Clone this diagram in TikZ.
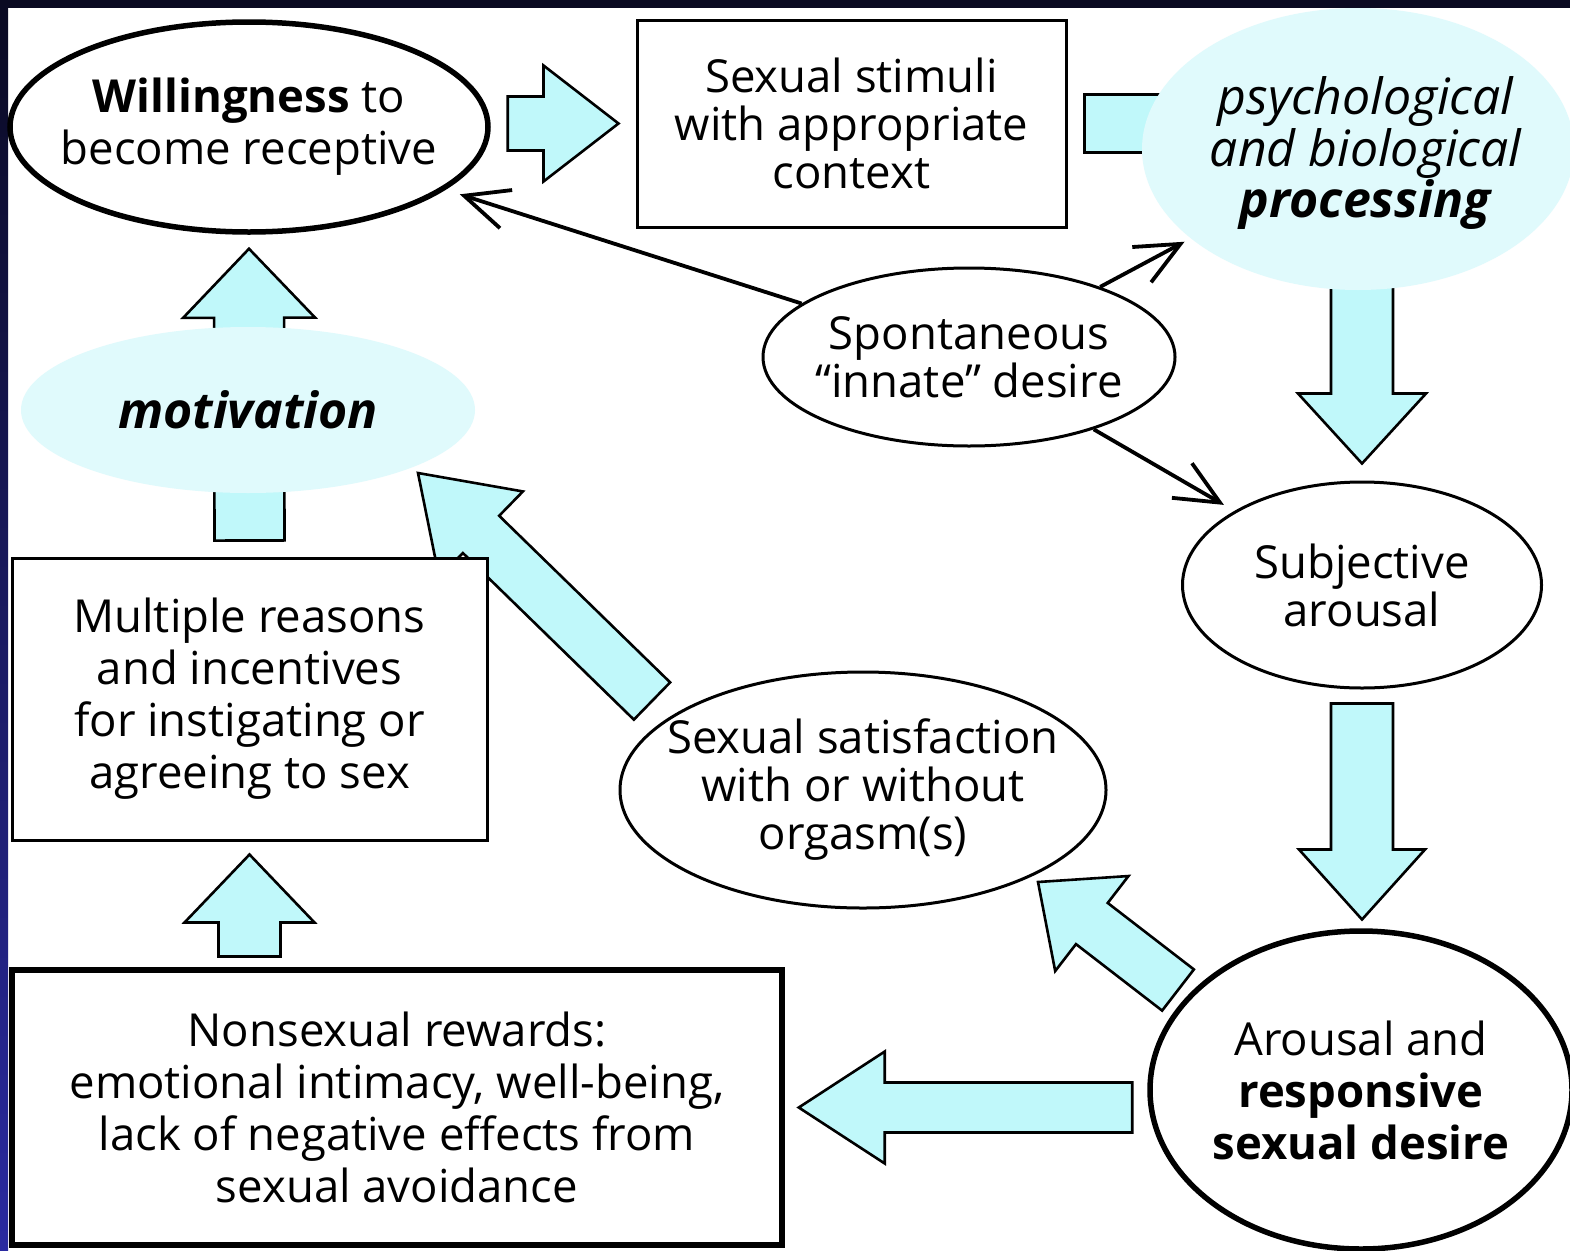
\documentclass[tikz,border=0pt]{standalone}
\usepackage{fontspec}
\setmainfont{Open Sans}
\usetikzlibrary{calc,positioning,shapes.geometric,arrows.meta}
\definecolor{arrowfill}{RGB}{192,248,250}
\definecolor{glowfill}{RGB}{224,250,252}
\definecolor{framedark}{RGB}{10,10,34}
\definecolor{frameblue}{RGB}{42,42,160}
\tikzset{>=stealth}
\pgfdeclarelayer{backdrop}
\pgfdeclarelayer{arrowlayer}
\pgfsetlayers{backdrop,arrowlayer,main}

% block arrow: from, to, half body, half head, head length
\newcommand{\fatarrow}[5]{%
  \coordinate (fa-a) at #1;
  \coordinate (fa-b) at #2;
  \coordinate (fa-h) at ($(fa-b)!#5!(fa-a)$);
  \draw[blockarrow] ($(fa-a)!#3!90:(fa-b)$) -- ($(fa-h)!#3!90:(fa-b)$) -- ($(fa-h)!#4!90:(fa-b)$)
    -- (fa-b) -- ($(fa-h)!#4!-90:(fa-b)$) -- ($(fa-h)!#3!-90:(fa-b)$) -- ($(fa-a)!#3!-90:(fa-b)$) -- cycle;}

\begin{document}
\begin{tikzpicture}[x=1pt,y=-1pt,
    font=\fontsize{45.5}{48}\selectfont,
    box/.style={draw,fill=white,line width=3pt,align=center,inner sep=0pt},
    bubble/.style={ellipse,draw,fill=white,line width=3pt,inner sep=0pt},
    glow/.style={ellipse,fill=glowfill,inner sep=0pt},
    txt/.style={align=center,inner sep=0pt},
    heavy/.style={line width=5.5pt},
    wide/.style={font=\fontsize{45.5}{52}\selectfont},
    big/.style={font=\fontsize{50}{48}\selectfont},
    blockarrow/.style={draw,fill=arrowfill,line width=2.6pt,line join=miter},
    thinarrow/.style={line width=3.8pt,-{Straight Barb[length=44pt,width=40pt]}}]
  \useasboundingbox (0,0) rectangle (1570,1250);
  \begin{pgfonlayer}{backdrop}
    \fill[white] (0,0) rectangle (1570,1250);
    \fill[framedark] (0,0) rectangle (1570,8);
    \shade[top color=framedark,bottom color=frameblue] (0,0) rectangle (8,1250);
  \end{pgfonlayer}

  % nodes
  \node[bubble,heavy,minimum width=478pt,minimum height=210pt] (will) at (249,127) {};
  \node[txt,wide] (will-t) at (will) {\textbf{Willingness} to\\become receptive};
  \node[box,minimum width=429pt,minimum height=207pt] (stim) at (851.5,123.5) {Sexual stimuli\\with appropriate\\context};
  \node[glow,minimum width=432pt,minimum height=282pt] (psych) at (1358,149) {};
  \node[txt,big] (psych-t) at (1366,153) {\textit{psychological}\\\textit{and biological}\\\textbf{\textit{processing}}};
  \node[bubble,minimum width=412pt,minimum height=178pt] (spont) at (969,357) {};
  \node[txt] (spont-t) at (spont) {Spontaneous\\“innate” desire};
  \node[bubble,minimum width=359pt,minimum height=206pt] (subj) at (1362,585) {};
  \node[txt] (subj-t) at (subj) {Subjective\\arousal};
  \node[bubble,heavy,minimum width=422pt,minimum height=318pt] (arou) at (1361,1090) {};
  \node[txt,wide] (arou-t) at (arou) {Arousal and\\\textbf{responsive}\\\textbf{sexual desire}};
  \node[bubble,minimum width=486pt,minimum height=236pt] (sat) at (863,790) {};
  \node[txt] (sat-t) at (sat) {Sexual satisfaction\\with or without\\orgasm(s)};
  \node[box,wide,minimum width=475pt,minimum height=282pt] (mult) at (249.5,699) {Multiple reasons\\and incentives\\for instigating or\\agreeing to sex};
  \node[box,wide,heavy,minimum width=770pt,minimum height=275pt] (nons) at (397,1107.5) {Nonsexual rewards:\\{emotional intimacy, well-being,}\\lack of negative effects from\\sexual avoidance};
  \node[glow,minimum width=454pt,minimum height=166pt] (motiv) at (248,410) {};
  \node[txt,big] (motiv-t) at (motiv) {\textbf{\textit{motivation}}};

  % block arrows
  \begin{pgfonlayer}{arrowlayer}
    \fatarrow{($(will.east|-stim.west)+(17,0)$)}{($(stim.west)+(-17,0)$)}{27pt}{58pt}{75pt}
    \fatarrow{($(stim.east)+(17,0)$)}{($(stim.east)+(240,0)$)}{29pt}{58pt}{75pt}
    \fatarrow{($(subj.north)+(0,-232)$)}{($(subj.north)+(0,-17)$)}{31pt}{64pt}{70pt}
    \fatarrow{($(subj.south)+(0,14)$)}{($(subj.south)+(0,230)$)}{31pt}{63pt}{70pt}
    \fatarrow{($(arou.west|-nons.east)+(-15,0)$)}{($(nons.east)+(14,0)$)}{25pt}{56pt}{86pt}
    \fatarrow{(1178,990)}{(1038,882)}{26pt}{60pt}{68pt}
    \fatarrow{(652,701)}{(418,473)}{26pt}{60pt}{88pt}
    \fatarrow{($(mult.south)+(0,115)$)}{($(mult.south)+(0,13)$)}{31pt}{65pt}{68pt}
    \fatarrow{($(mult.north)+(0,-16)$)}{($(will.south)+(0,14)$)}{35pt}{66pt}{69pt}
  \end{pgfonlayer}

  % thin arrows
  \draw[thinarrow,shorten >=15pt] (spont) -- (will);
  \draw[thinarrow,shorten >=7pt] (spont) -- (psych);
  \draw[thinarrow,shorten >=12pt] (spont) -- (subj);
\end{tikzpicture}
\end{document}
